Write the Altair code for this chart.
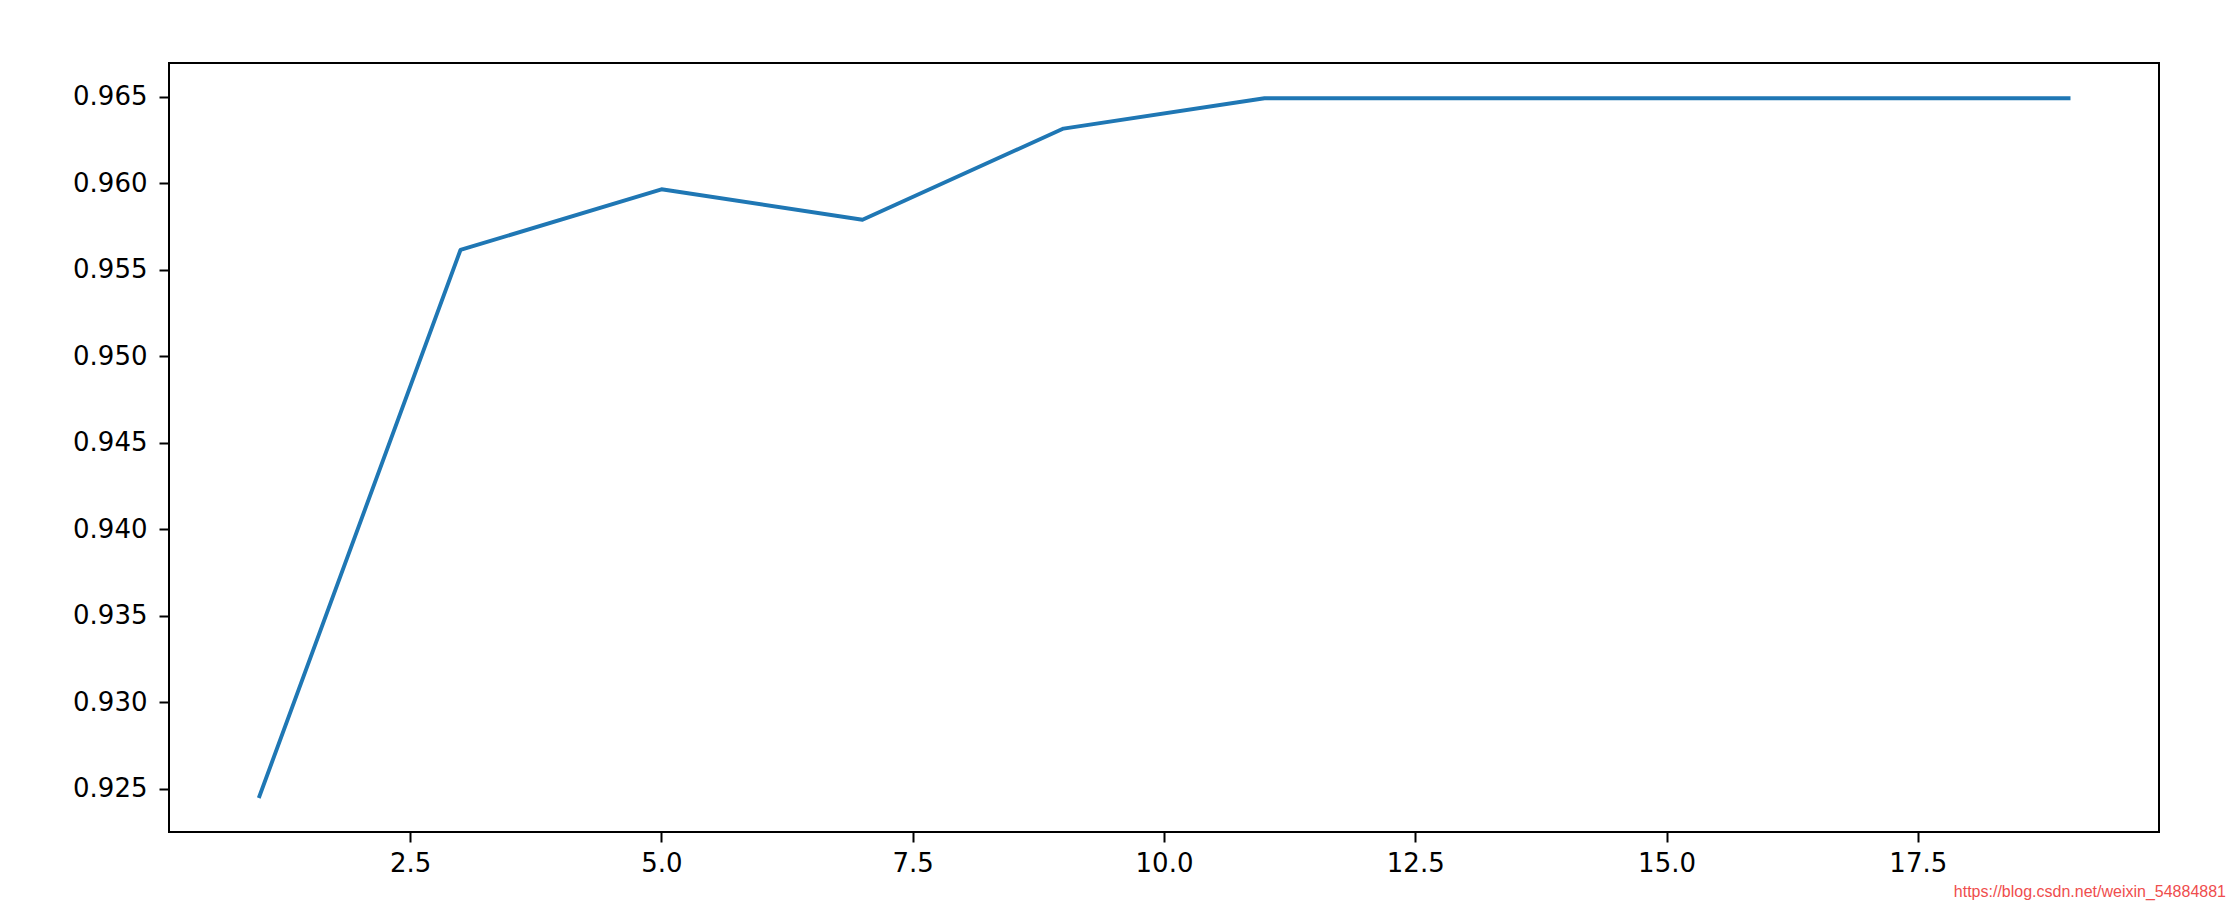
import altair as alt
import pandas as pd

k_values = [1, 3, 5, 7, 9, 11, 13, 15, 17, 19]
accuracy = [0.92456, 0.95614, 0.95965, 0.95789, 0.96316, 0.96491, 0.96491, 0.96491, 0.96491, 0.96491]
x_ticks = [2.5, 5.0, 7.5, 10.0, 12.5, 15.0, 17.5]
y_ticks = [0.925, 0.930, 0.935, 0.940, 0.945, 0.950, 0.955, 0.960, 0.965]
watermark = ["https://blog.csdn.net/weixin_54884881"]

df = pd.DataFrame({"k": k_values, "acc": accuracy})
wm = pd.DataFrame({"t": watermark})

W, H = 1990, 769

line = alt.Chart(df).mark_line(color="#1f77b4", strokeWidth=3.9, strokeCap="square",
                               strokeJoin="round").encode(
    x=alt.X("k:Q",
            scale=alt.Scale(domain=[0.1, 19.9], nice=False, zero=False),
            axis=alt.Axis(values=x_ticks, format=".1f", title=None, grid=False,
                          domain=False, tickSize=10, tickWidth=2, tickColor="black",
                          labelFontSize=26, labelFont="DejaVu Sans", labelColor="black",
                          labelPadding=8, labelFlush=False)),
    y=alt.Y("acc:Q",
            scale=alt.Scale(domain=[0.92249, 0.96695], nice=False, zero=False),
            axis=alt.Axis(values=y_ticks, format=".3f", title=None, grid=False,
                          domain=False, tickSize=10, tickWidth=2, tickColor="black",
                          labelFontSize=26, labelFont="DejaVu Sans", labelColor="black",
                          labelPadding=12, labelFlush=False)),
)

text = alt.Chart(wm).mark_text(
    align="right", baseline="alphabetic", fontSize=16,
    font="Liberation Sans", color="#ef4d4d"
).encode(
    x=alt.value(2057), y=alt.value(834), text="t:N"
)

chart = alt.layer(line, text).properties(
    width=W, height=H,
    autosize=alt.AutoSizeParams(type="none"),
    padding={"left": 161, "top": 55, "right": 68, "bottom": 71},
).configure(background="white").configure_view(stroke="black", strokeWidth=2)

chart.save("out.html", embed_options={"renderer": "svg", "actions": False})
